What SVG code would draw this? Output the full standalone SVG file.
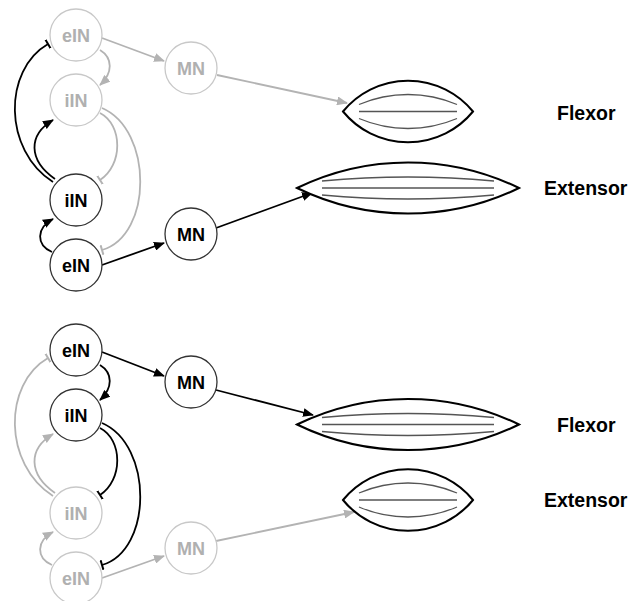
<svg xmlns="http://www.w3.org/2000/svg" width="630" height="601" viewBox="0 0 630 601">
<defs>
<style>
.nb circle{fill:#fff;stroke:#333;stroke-width:1.3}
.ng circle{fill:#fff;stroke:#c8c8c8;stroke-width:1.3}
.nb text{fill:#000}
.ng text{fill:#b0b0b0}
text{font-family:"Liberation Sans",Arial,sans-serif;font-weight:bold;font-size:18px;text-anchor:middle}
.lab{font-size:19.5px;text-anchor:start;fill:#000}
.cb{fill:none;stroke:#000;stroke-width:1.8}
.cg{fill:none;stroke:#b3b3b3;stroke-width:1.8}
.ab{marker-end:url(#ab)}
.ag{marker-end:url(#ag)}
.tb{marker-end:url(#tb)}
.tg{marker-end:url(#tg)}
.lens{fill:#fff;stroke:#000;stroke-width:2}
.fib{fill:none;stroke:#555;stroke-width:1.3}
</style>
<marker id="ab" viewBox="0 0 11 9" markerWidth="11" markerHeight="9" refX="10" refY="4.5" orient="auto" markerUnits="userSpaceOnUse"><path d="M0,0 L11,4.5 L0,9 z" fill="#000"/></marker>
<marker id="ag" viewBox="0 0 11 9" markerWidth="11" markerHeight="9" refX="10" refY="4.5" orient="auto" markerUnits="userSpaceOnUse"><path d="M0,0 L11,4.5 L0,9 z" fill="#b3b3b3"/></marker>
<marker id="tb" viewBox="0 0 3 10" markerWidth="3" markerHeight="10" refX="1.5" refY="5" orient="auto" markerUnits="userSpaceOnUse"><path d="M1.5,0 L1.5,10" stroke="#000" stroke-width="2"/></marker>
<marker id="tg" viewBox="0 0 3 10" markerWidth="3" markerHeight="10" refX="1.5" refY="5" orient="auto" markerUnits="userSpaceOnUse"><path d="M1.5,0 L1.5,10" stroke="#b3b3b3" stroke-width="2"/></marker>
</defs>
<g id="connectors">
<path class="cg ag" d="M102,38 L164,61"/>
<path class="cg ag" d="M100,50 C113,58 113,73 100,85"/>
<path class="cb tb" d="M53,182 C3,150 3,70 48,44"/>
<path class="cb ab" d="M55,179 C28,160 28,135 53,120"/>
<path class="cg tg" d="M100,113 C123,125 123,165 100,180"/>
<path class="cg tg" d="M102,108 C153,130 153,235 102,250"/>
<path class="cb ab" d="M52,252 C36,245 36,228 53,219"/>
<path class="cb ab" d="M102,265 L164,243"/>
<path class="cb ab" d="M216,228 L312,193"/>
<path class="cg ag" d="M217,75 L347,103"/>
<path class="cb ab" d="M102,352 L164,376"/>
<path class="cb ab" d="M100,365 C113,373 113,388 100,400"/>
<path class="cg tg" d="M53,496 C3,464 3,384 48,358"/>
<path class="cg ag" d="M55,493 C28,474 28,449 53,434"/>
<path class="cb tb" d="M100,428 C123,440 123,480 100,495"/>
<path class="cb tb" d="M102,423 C153,445 153,550 102,565"/>
<path class="cg ag" d="M52,565 C36,558 36,541 53,532"/>
<path class="cg ag" d="M102,578 L164,556"/>
<path class="cb ab" d="M216,390 L313,415"/>
<path class="cg ag" d="M216,541 L354,512"/>
</g>
<g id="eIN-top" class="ng"><circle cx="76" cy="35" r="26"/><text x="76" y="41.5">eIN</text></g>
<g id="MN-top-flexor" class="ng"><circle cx="191" cy="68" r="26"/><text x="191" y="74.5">MN</text></g>
<g id="iIN-top-gray" class="ng"><circle cx="76" cy="100" r="26"/><text x="76" y="106.5">iIN</text></g>
<g id="iIN-top-black" class="nb"><circle cx="76" cy="200" r="26"/><text x="76" y="206.5">iIN</text></g>
<g id="eIN-top-black" class="nb"><circle cx="76" cy="265" r="26"/><text x="76" y="271.5">eIN</text></g>
<g id="MN-top-extensor" class="nb"><circle cx="191" cy="234" r="26"/><text x="191" y="240.5">MN</text></g>
<g id="eIN-bottom-black" class="nb"><circle cx="76" cy="350" r="26"/><text x="76" y="356.5">eIN</text></g>
<g id="MN-bottom-flexor" class="nb"><circle cx="191" cy="382" r="26"/><text x="191" y="388.5">MN</text></g>
<g id="iIN-bottom-black" class="nb"><circle cx="76" cy="415" r="26"/><text x="76" y="421.5">iIN</text></g>
<g id="iIN-bottom-gray" class="ng"><circle cx="76" cy="513" r="26"/><text x="76" y="519.5">iIN</text></g>
<g id="eIN-bottom-gray" class="ng"><circle cx="76" cy="578" r="26"/><text x="76" y="584.5">eIN</text></g>
<g id="MN-bottom-extensor" class="ng"><circle cx="191" cy="548" r="26"/><text x="191" y="554.5">MN</text></g>
<g id="flexor-top" transform="translate(408,111.5)">
<path class="lens" d="M-65,0 A84,84 0 0 1 65,0 A84,84 0 0 1 -65,0 Z"/>
<path class="fib" d="M-49,-7 A125,125 0 0 1 49,-7 M-49,0 L49,0 M-49,7 A125,125 0 0 0 49,7"/>
</g>
<g id="extensor-top" transform="translate(408,188)">
<path class="lens" d="M-111,0 A254,254 0 0 1 111,0 A254,254 0 0 1 -111,0 Z"/>
<path class="fib" d="M-86,-7 A926,926 0 0 1 86,-7 M-86,0 L86,0 M-86,7 A926,926 0 0 0 86,7"/>
</g>
<g id="flexor-bottom" transform="translate(408,424.5)">
<path class="lens" d="M-111,0 A254,254 0 0 1 111,0 A254,254 0 0 1 -111,0 Z"/>
<path class="fib" d="M-86,-7 A926,926 0 0 1 86,-7 M-86,0 L86,0 M-86,7 A926,926 0 0 0 86,7"/>
</g>
<g id="extensor-bottom" transform="translate(408,500)">
<path class="lens" d="M-65,0 A84,84 0 0 1 65,0 A84,84 0 0 1 -65,0 Z"/>
<path class="fib" d="M-49,-7 A125,125 0 0 1 49,-7 M-49,0 L49,0 M-49,7 A125,125 0 0 0 49,7"/>
</g>
<g id="labels">
<text class="lab" x="557" y="120">Flexor</text>
<text class="lab" x="544" y="195">Extensor</text>
<text class="lab" x="557" y="432">Flexor</text>
<text class="lab" x="544" y="507">Extensor</text>
</g>
</svg>
